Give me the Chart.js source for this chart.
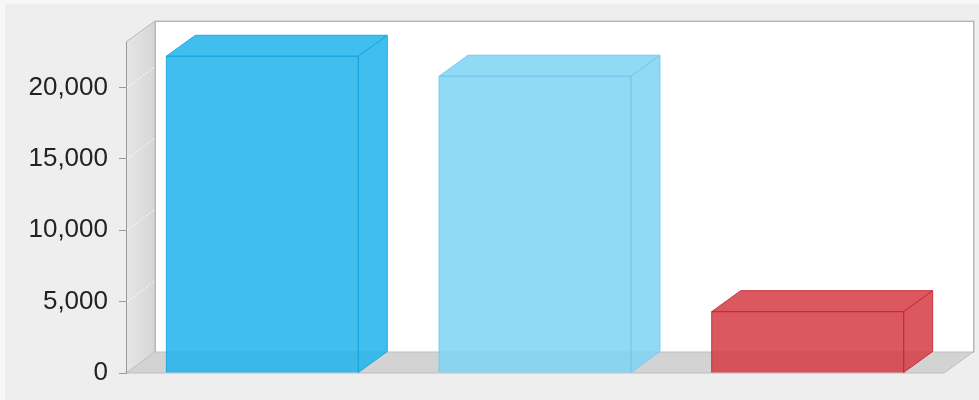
<!DOCTYPE html>
<html><head><meta charset="utf-8">
<script src="https://cdn.jsdelivr.net/npm/chart.js@4"></script>
<style>html,body{margin:0;padding:0;background:#eeeeee}#wrap{width:979px;height:400px}</style>
</head><body><div id="wrap"><canvas id="c" width="979" height="400"></canvas></div>
<script>
const categories = ['Bar 1', 'Bar 2', 'Bar 3'];
const values = [22200, 20800, 4300];
const yTicks = [0, 5000, 10000, 15000, 20000];
const yMax = 23200;
const faceColors = ['rgba(30,180,235,0.85)', 'rgba(125,211,244,0.85)', 'rgba(214,59,68,0.85)'];
const edgeColors = ['rgba(20,165,225,0.9)', 'rgba(115,200,238,0.9)', 'rgba(200,40,52,0.9)'];

const DX = 29, DY = -21;

const threeD = {
  id: 'threeD',
  beforeDraw(chart) {
    const ctx = chart.ctx, a = chart.chartArea;
    const W = chart.width, H = chart.height;
    ctx.save();
    ctx.fillStyle = '#f7f7f7';
    ctx.fillRect(0, 0, W, H);
    ctx.fillStyle = '#eeeeee';
    ctx.fillRect(5, 4, W - 5, H - 4);
    const L = a.left, R = a.right, T = a.top, B = a.bottom;
    // back wall
    ctx.fillStyle = '#ffffff';
    ctx.fillRect(L + DX, T + DY, R - L, B - T);
    ctx.strokeStyle = '#b4b4b4';
    ctx.lineWidth = 1;
    ctx.strokeRect(L + DX + 0.5, T + DY + 0.5, R - L, B - T);
    ctx.strokeStyle = '#d6d6d6';
    ctx.beginPath();
    ctx.moveTo(L + DX, T + DY - 0.5); ctx.lineTo(R + DX + 1.5, T + DY - 0.5); ctx.lineTo(R + DX + 1.5, B + DY);
    ctx.stroke();
    // left wall
    const g = ctx.createLinearGradient(L, 0, L + DX, 0);
    g.addColorStop(0, '#e6e6e6');
    g.addColorStop(1, '#d6d6d6');
    ctx.fillStyle = g;
    ctx.beginPath();
    ctx.moveTo(L, T); ctx.lineTo(L + DX, T + DY); ctx.lineTo(L + DX, B + DY); ctx.lineTo(L, B); ctx.closePath();
    ctx.fill();
    ctx.strokeStyle = '#b8b8b8';
    ctx.beginPath();
    ctx.moveTo(L, T); ctx.lineTo(L + DX, T + DY); ctx.lineTo(L + DX, B + DY);
    ctx.stroke();
    // floor
    ctx.fillStyle = '#d3d3d3';
    ctx.beginPath();
    ctx.moveTo(L, B); ctx.lineTo(R, B); ctx.lineTo(R + DX, B + DY); ctx.lineTo(L + DX, B + DY); ctx.closePath();
    ctx.fill();
    ctx.strokeStyle = '#bdbdbd';
    ctx.stroke();
    // wall grid lines
    const ys = chart.scales.y;
    ctx.strokeStyle = 'rgba(255,255,255,0.95)';
    ctx.setLineDash([2, 2]);
    yTicks.forEach(v => {
      if (v === 0) return;
      const y = ys.getPixelForValue(v);
      ctx.beginPath();
      ctx.moveTo(L + 1, y); ctx.lineTo(L + DX, y + DY);
      ctx.stroke();
    });
    ctx.restore();
  },
  afterDatasetsDraw(chart) {
    const ctx = chart.ctx;
    const meta = chart.getDatasetMeta(0);
    ctx.save();
    ctx.lineWidth = 1;
    meta.data.forEach((bar, i) => {
      const p = bar.getProps(['x', 'y', 'base', 'width'], true);
      const x1 = p.x - p.width / 2, x2 = p.x + p.width / 2, yt = p.y, yb = p.base;
      ctx.fillStyle = faceColors[i];
      ctx.strokeStyle = edgeColors[i];
      // top face
      ctx.beginPath();
      ctx.moveTo(x1, yt); ctx.lineTo(x1 + DX, yt + DY); ctx.lineTo(x2 + DX, yt + DY); ctx.lineTo(x2, yt); ctx.closePath();
      ctx.fill(); ctx.stroke();
      // side face
      ctx.beginPath();
      ctx.moveTo(x2, yt); ctx.lineTo(x2 + DX, yt + DY); ctx.lineTo(x2 + DX, yb + DY); ctx.lineTo(x2, yb); ctx.closePath();
      ctx.fill(); ctx.stroke();
      // front edges
      ctx.beginPath();
      ctx.moveTo(x1, yb); ctx.lineTo(x1, yt); ctx.lineTo(x2, yt); ctx.lineTo(x2, yb);
      ctx.stroke();
    });
    ctx.restore();
  }
};

new Chart(document.getElementById('c'), {
  type: 'bar',
  data: {
    labels: categories,
    datasets: [{
      data: values,
      backgroundColor: faceColors,
      borderWidth: 0,
      categoryPercentage: 1,
      barPercentage: 0.704
    }]
  },
  options: {
    responsive: false,
    devicePixelRatio: 1,
    animation: false,
    layout: { padding: { left: 0, right: 35, top: 42, bottom: 27 } },
    plugins: { legend: { display: false }, tooltip: { enabled: false } },
    scales: {
      x: { display: false },
      y: {
        min: 0,
        max: yMax,
        afterBuildTicks: s => { s.ticks = yTicks.map(v => ({ value: v })); },
        afterFit: s => { s.width = 126; },
        border: { display: true, color: '#9a9a9a' },
        grid: { drawOnChartArea: false, drawTicks: true, tickLength: 7, color: '#9a9a9a' },
        ticks: {
          padding: 11,
          color: '#222222',
          font: { family: "'Liberation Sans', Arial, sans-serif", size: 26 },
          callback: v => Number(v).toLocaleString('en-US')
        }
      }
    }
  },
  plugins: [threeD]
});
</script>
</body></html>
